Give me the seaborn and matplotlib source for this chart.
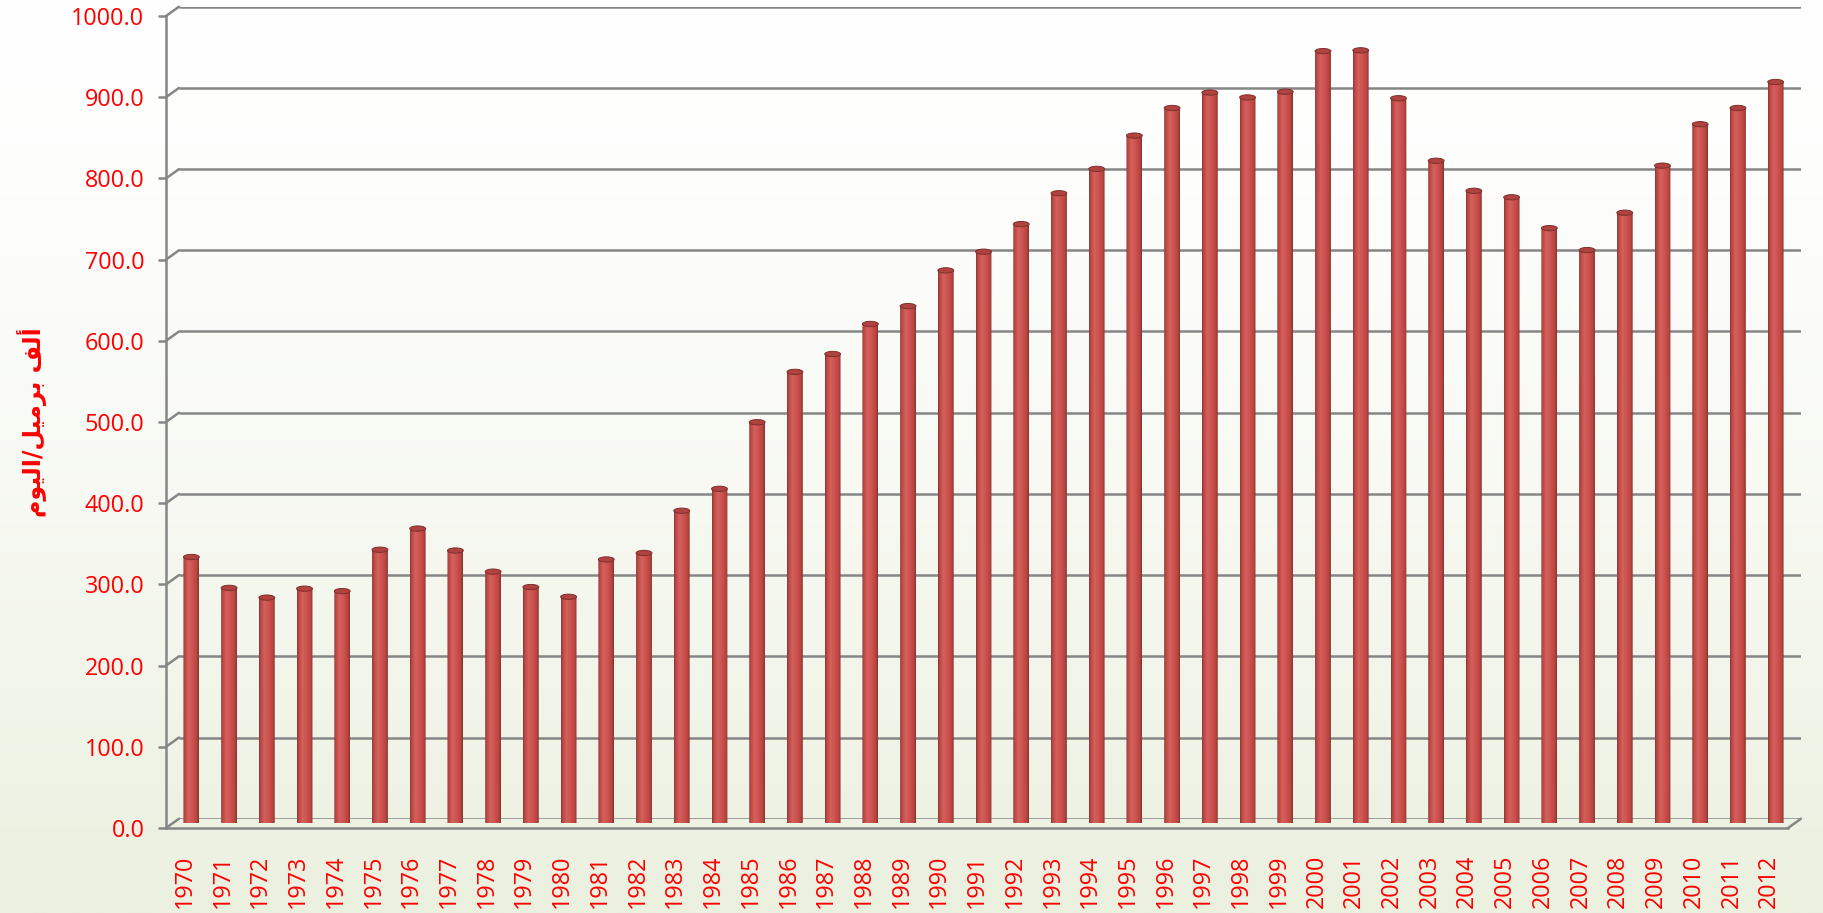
import numpy as np
import pandas as pd
import matplotlib
matplotlib.use("Agg")
import matplotlib.pyplot as plt
import seaborn as sns
from matplotlib.patches import ConnectionPatch, Ellipse, PathPatch
from matplotlib.path import Path
from matplotlib.colors import LinearSegmentedColormap, to_rgb

# ---------------- data ----------------
years = ["1970", "1971", "1972", "1973", "1974", "1975", "1976", "1977", "1978", "1979",
         "1980", "1981", "1982", "1983", "1984", "1985", "1986", "1987", "1988", "1989",
         "1990", "1991", "1992", "1993", "1994", "1995", "1996", "1997", "1998", "1999",
         "2000", "2001", "2002", "2003", "2004", "2005", "2006", "2007", "2008", "2009",
         "2010", "2011", "2012"]
production = [328, 290, 278, 289, 286, 337, 363, 336, 310, 291,
              279, 325, 333, 385, 412, 494, 556, 578, 615, 637,
              681, 704, 738, 776, 806, 847, 881, 900, 894, 901,
              951, 952, 893, 816, 779, 771, 733, 706, 752, 810,
              861, 881, 913]
y_ticks = [0, 100, 200, 300, 400, 500, 600, 700, 800, 900, 1000]
y_label = "ألف برميل/اليوم"

# ------------- simple Arabic shaping (matplotlib has no shaping/bidi) -------------
FORMS = {  # isolated, final, initial, medial
    "أ": ("\uFE83", "\uFE84", None, None),
    "ا": ("\uFE8D", "\uFE8E", None, None),
    "ر": ("\uFEAD", "\uFEAE", None, None),
    "و": ("\uFEED", "\uFEEE", None, None),
    "ل": ("\uFEDD", "\uFEDE", "\uFEDF", "\uFEE0"),
    "ف": ("\uFED1", "\uFED2", "\uFED3", "\uFED4"),
    "ب": ("\uFE8F", "\uFE90", "\uFE91", "\uFE92"),
    "م": ("\uFEE1", "\uFEE2", "\uFEE3", "\uFEE4"),
    "ي": ("\uFEF1", "\uFEF2", "\uFEF3", "\uFEF4"),
}


def shape_arabic(text):
    out = []
    n = len(text)
    for i, ch in enumerate(text):
        if ch not in FORMS:
            out.append(ch)
            continue
        prev = text[i - 1] if i > 0 else None
        nxt = text[i + 1] if i < n - 1 else None
        joins_prev = prev in FORMS and FORMS[prev][2] is not None
        joins_next = nxt in FORMS and FORMS[ch][2] is not None
        iso, fin, ini, med = FORMS[ch]
        if joins_prev and joins_next:
            out.append(med)
        elif joins_prev:
            out.append(fin)
        elif joins_next:
            out.append(ini)
        else:
            out.append(iso)
    return "".join(out)[::-1]


# ---------------- figure ----------------
sns.set_theme(style="white")
plt.rcParams["font.family"] = ["Open Sans", "DejaVu Sans"]

W, H = 1823, 913
fig = plt.figure(figsize=(W / 100, H / 100), dpi=100)

# background gradient
bg = fig.add_axes([0, 0, 1, 1], zorder=-10)
t = np.linspace(0, 1, 400)[:, None] ** 1.5
top_c = np.array(to_rgb("#ffffff"))
bot_c = np.array(to_rgb("#ebf0df"))
grad = top_c * (1 - t[..., None]) + bot_c * t[..., None]
grad = np.repeat(grad, 2, axis=1)
bg.imshow(grad, aspect="auto", extent=[0, 1, 0, 1], origin="upper")
bg.set_axis_off()

# geometry (pixels): front plane, middle (bars) plane, back wall plane
pw, ph = 1622, 812
front_l, front_b = 166, H - 828
back_l, back_b = 179, H - 818.7
mid_l, mid_b = (front_l + back_l) / 2, (front_b + back_b) / 2

axback = fig.add_axes([back_l / W, back_b / H, pw / W, ph / H], zorder=1)
axbar = fig.add_axes([mid_l / W, mid_b / H, pw / W, ph / H], zorder=2)
axfront = fig.add_axes([front_l / W, front_b / H, pw / W, ph / H], zorder=3)

grid_c = "#868686"
glw = 1.8
xlim = (-0.5, len(years) - 0.5)
for a in (axback, axbar, axfront):
    a.set_xlim(*xlim)
    a.set_ylim(0, 1000)
    a.patch.set_alpha(0)

# back wall gridlines
axback.set_axis_off()
for v in y_ticks:
    axback.axhline(v, color=grid_c, lw=glw, zorder=1, solid_capstyle="butt")

# diagonals connecting front axis to back wall
for v in y_ticks:
    con = ConnectionPatch(xyA=(0, v), coordsA=axfront.get_yaxis_transform(),
                          xyB=(0, v), coordsB=axback.get_yaxis_transform(),
                          color=grid_c, lw=glw)
    fig.add_artist(con)
con = ConnectionPatch(xyA=(1, 0), coordsA=axfront.transAxes,
                      xyB=(1, 0), coordsB=axback.transAxes, color=grid_c, lw=glw)
fig.add_artist(con)

# bars
df = pd.DataFrame({"year": years, "value": production})
sns.barplot(data=df, x="year", y="value", color="#c0504d", saturation=1,
            width=0.42, ax=axbar)
axbar.set_axis_off()
axbar.set_xlim(*xlim)
axbar.set_ylim(0, 1000)

cyl = LinearSegmentedColormap.from_list(
    "cyl", [(0.0, "#8a3533"), (0.1, "#bb4845"), (0.35, "#d5605c"),
            (0.62, "#cc524f"), (0.88, "#b8443f"), (1.0, "#843230")])
gimg = np.linspace(0, 1, 64)[None, :]
cap_h = 6.5  # data units (~5 px)
for p in list(axbar.patches):
    x0 = p.get_x()
    w = p.get_width()
    h = p.get_height()
    cx = x0 + w / 2
    p.set_visible(False)
    th = np.linspace(np.pi, 2 * np.pi, 30)
    arc = np.column_stack([cx + w / 2 * np.cos(th), cap_h / 2 * np.sin(th)])
    verts = np.vstack([[x0, h], arc, [x0 + w, h], [x0, h]])
    body = PathPatch(Path(verts, closed=True), facecolor="none", edgecolor="none",
                     transform=axbar.transData)
    axbar.add_patch(body)
    im = axbar.imshow(gimg, cmap=cyl, aspect="auto",
                      extent=[x0, x0 + w, -cap_h, h], zorder=3, interpolation="bilinear")
    im.set_clip_path(body)
    cap = Ellipse((cx, h), w, cap_h, facecolor="#b0433f", edgecolor="#7e2f2d",
                  lw=0.7, zorder=5)
    axbar.add_patch(cap)
axbar.set_xlim(*xlim)
axbar.set_ylim(0, 1000)

# front axis (ticks and labels)
for s in ("top", "right"):
    axfront.spines[s].set_visible(False)
for s in ("left", "bottom"):
    axfront.spines[s].set_color(grid_c)
    axfront.spines[s].set_linewidth(glw)
axfront.set_yticks(y_ticks)
axfront.set_yticklabels([f"{v:.1f}" for v in y_ticks])
axfront.set_xticks(range(len(years)))
axfront.set_xticklabels(years, rotation=90)
axfront.tick_params(axis="y", direction="out", length=5.5, width=glw, color=grid_c,
                    labelcolor="#ff0000", labelsize=16.8, pad=10, left=True)
axfront.tick_params(axis="x", length=0, labelcolor="#ff0000", labelsize=16.8, pad=19,
                    bottom=True)
axfront.grid(False)
axfront.set_ylabel(shape_arabic(y_label), color="#ff0000", fontsize=17,
                   fontweight="bold", family=["DejaVu Sans"])
axfront.yaxis.set_label_coords(-0.0735, 0.5)
axfront.set_xlabel("")

fig.savefig("out.png", dpi=100)
